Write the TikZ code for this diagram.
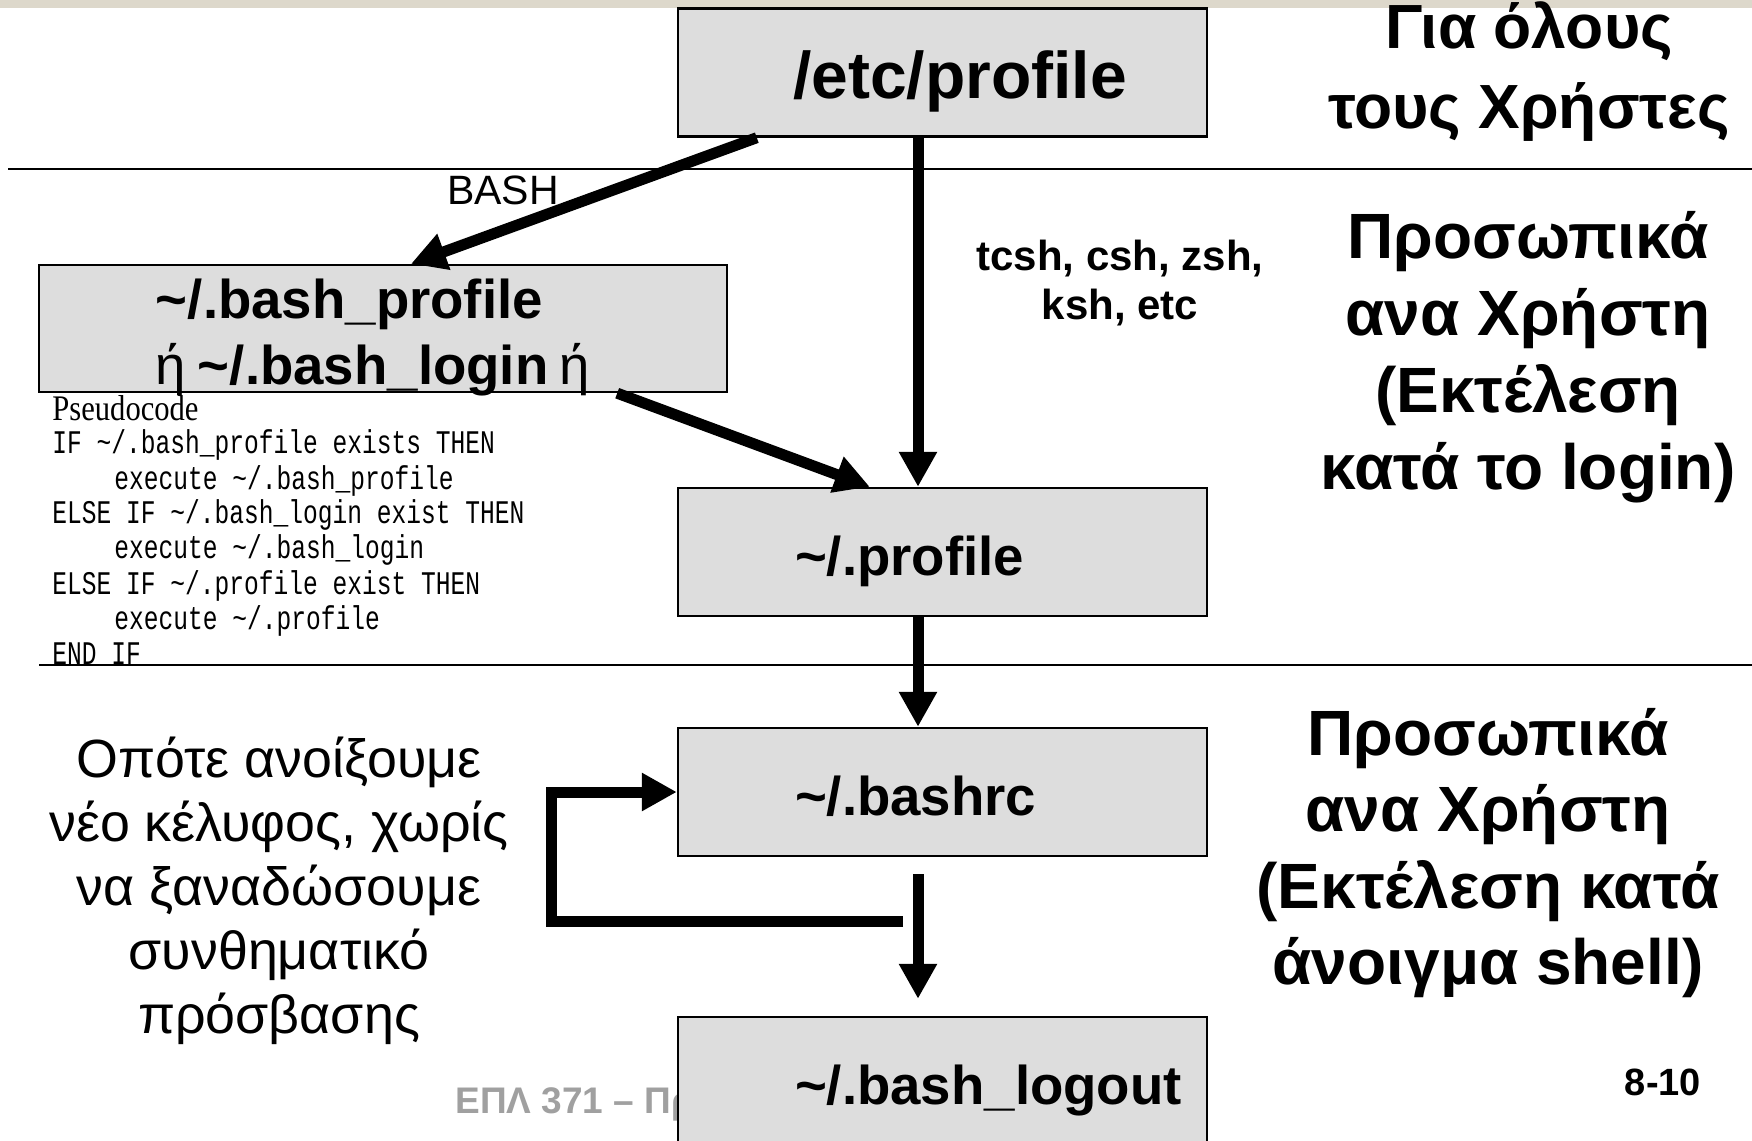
\documentclass[tikz,border=0pt]{standalone}
\usepackage{fontspec}
\setmainfont{Liberation Sans}
\newfontfamily\pseudomono[FakeStretch=0.745]{Liberation Mono}
\newfontfamily\pseudoserif[FakeStretch=0.85]{Liberation Serif}
\usetikzlibrary{arrows.meta}
\definecolor{boxgray}{RGB}{221,221,221}
\definecolor{bandcol}{RGB}{221,216,203}
\definecolor{footgray}{RGB}{160,160,160}
\begin{document}
\begin{tikzpicture}[x=0.5pt,y=-0.5pt,
  box/.style={draw=black,line width=1.2pt,fill=boxgray,inner xsep=0pt,inner ysep=0pt,
    minimum width=264.5pt,minimum height=64pt,text width=264.5pt,align=left,
    text height=23.1pt,text depth=0pt,
    font=\bfseries\fontsize{27.3}{33}\selectfont},
  arr/.style={line width=5.5pt,-{Triangle[length=17.5pt,width=18pt]}},
  sepline/.style={line width=1.2pt},
  pcode/.style={anchor=west,inner sep=0pt,font=\pseudomono\fontsize{16.5}{18}\selectfont},
  heading/.style={align=center,inner sep=0pt,font=\bfseries\fontsize{32}{38.5}\selectfont},
  note/.style={align=center,inner sep=0pt,font=\fontsize{26.9}{32}\selectfont},
  lbl/.style={align=center,inner sep=0pt}
]
\useasboundingbox (0,0) rectangle (1752,1141);
\fill[white] (0,0) rectangle (1752,1141);
% top band
\fill[bandcol] (0,0) rectangle (1752,8);
% separators
\draw[sepline] (8,169) -- (1752,169);
\draw[sepline] (39,665) -- (1752,665);
% footer (partly hidden by the logout box)
\node[anchor=west,inner sep=0pt,text=footgray,font=\bfseries\fontsize{18.5}{22}\selectfont] (footer) at (455,1104) {ΕΠΛ 371 – Πρ};
% boxes
\node[box,text height=25.9pt,font=\bfseries\fontsize{33}{38}\selectfont] (etc) at (942.5,72.5) {\hspace*{57.5pt}/etc/profile};
\node[box,minimum width=344pt,text width=344pt,minimum height=63.5pt,text height=0pt,text depth=9.9pt] (bp) at (383,328.5)
  {\hspace*{58.5pt}\textasciitilde/.bash\_profile\\\hspace*{58.5pt}{\mdseries ή}\hspace{5.8pt}\textasciitilde/.bash\_login\hspace{5.8pt}{\mdseries ή}};
\node[box] (prof) at (942.5,552) {\hspace*{58.5pt}\textasciitilde/.profile};
\node[box] (rc) at (942.5,792) {\hspace*{58.5pt}\textasciitilde/.bashrc};
\node[box] (logout) at (942.5,1081) {\hspace*{58.5pt}\textasciitilde/.bash\_logout};
% pseudocode
\node[anchor=west,inner sep=0pt,font=\pseudoserif\fontsize{18}{20}\selectfont] (pc0) at (52,408) {Pseudocode};
\node[pcode] (pc1) at (52,445) {IF \textasciitilde/.bash\_profile exists THEN};
\node[pcode] (pc2) at (114,481) {execute \textasciitilde/.bash\_profile};
\node[pcode] (pc3) at (52,515) {ELSE IF \textasciitilde/.bash\_login exist THEN};
\node[pcode] (pc4) at (114,550) {execute \textasciitilde/.bash\_login};
\node[pcode] (pc5) at (52,586) {ELSE IF \textasciitilde/.profile exist THEN};
\node[pcode] (pc6) at (114,621) {execute \textasciitilde/.profile};
\node[pcode] (pc7) at (52,654) {END IF};
% labels
\node[lbl,font=\fontsize{20.5}{24}\selectfont] (bashlbl) at (503,190) {BASH};
\node[lbl,font=\bfseries\fontsize{21}{24.5}\selectfont] (shells) at (1120,283) {tcsh, csh, zsh,\\ksh, etc};
\node[heading,font=\bfseries\fontsize{31.2}{40}\selectfont] (allusers) at (1529,72) {Για όλους\\τους Χρήστες};
\node[heading] (peruser1) at (1528,357.5) {Προσωπικά\\ανα Χρήστη\\(Εκτέλεση\\κατά το login)};
\node[heading,font=\bfseries\fontsize{32}{38.3}\selectfont] (peruser2) at (1488,853) {Προσωπικά\\ανα Χρήστη\\(Εκτέλεση κατά\\άνοιγμα shell)};
\node[note] (newshell) at (279,891) {Οπότε ανοίξουμε\\νέο κέλυφος, χωρίς\\να ξαναδώσουμε\\συνθηματικό\\πρόσβασης};
\node[lbl,font=\bfseries\fontsize{19}{22}\selectfont] (pagenum) at (1663,1082) {8-10};
% arrows
\draw[arr] ([xshift=40pt]etc.south west) -- ([xshift=14pt]bp.north);
\draw[arr] ([xshift=-55.5pt]bp.south east) -- ([xshift=96.5pt]prof.north west);
\draw[arr] ([xshift=-12.25pt]etc.south) -- ([xshift=-12.25pt]prof.north);
\draw[arr] ([xshift=-12.25pt]prof.south) -- ([xshift=-12.25pt]rc.north);
\draw[arr,shorten <=8.5pt,shorten >=8.5pt] ([xshift=-12.25pt]rc.south) -- ([xshift=-12.25pt]logout.north);
\coordinate (loopstart) at (903,921);
\coordinate (loopcorner) at (551,921);
\draw[arr,line join=miter] (loopstart) -- (loopcorner) |- (rc.west);
\end{tikzpicture}
\end{document}
